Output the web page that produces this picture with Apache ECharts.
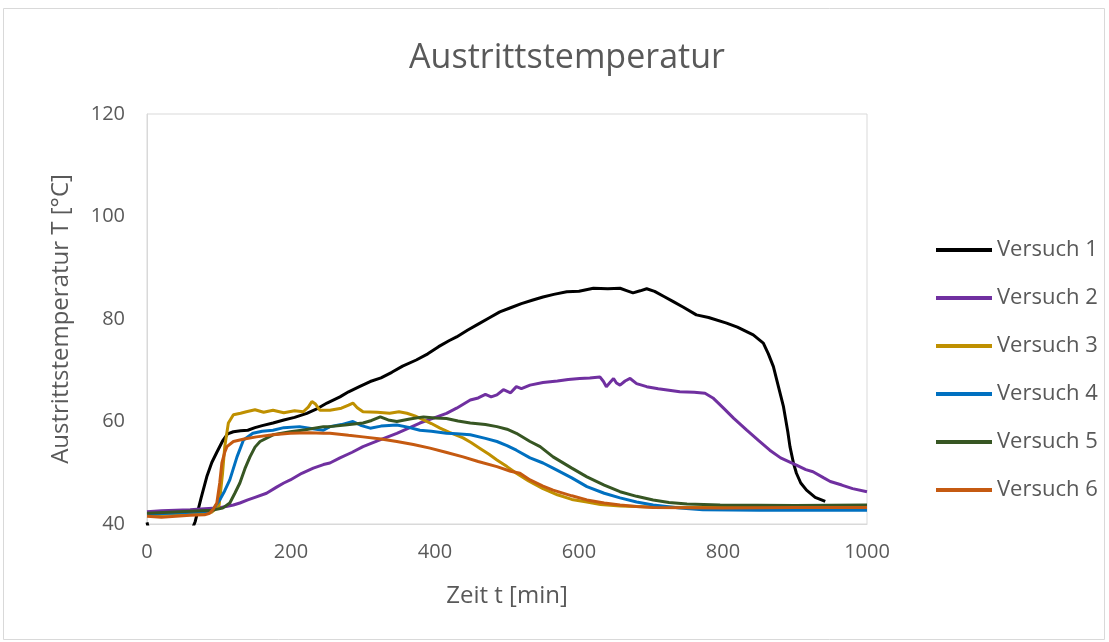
<!DOCTYPE html>
<html>
<head>
<meta charset="utf-8">
<script src="https://cdn.jsdelivr.net/npm/echarts@6/dist/echarts.min.js"></script>
<style>html,body{margin:0;padding:0;background:#fff;}#c{width:1109px;height:642px;}</style>
</head>
<body>
<div id="c"></div>
<script>
const titleText = "Austrittstemperatur";
const xName = "Zeit t [min]";
const yName = "Austrittstemperatur T [°C]";
const seriesNames = ["Versuch 1","Versuch 2","Versuch 3","Versuch 4","Versuch 5","Versuch 6"];
const seriesColors = ["#000000","#7030A0","#BF9000","#0070C0","#375623","#C55A11"];

const versuch1 = [[0,40.3],[4,38],[10,34],[30,33],[50,35],[60,38],[67,40.5],[75,45],[83,49.2],[90,52],[97,54],[105,56.2],[112,57.6],[120,58],[130,58.2],[140,58.3],[150,58.8],[160,59.2],[175,59.7],[190,60.3],[205,60.8],[222,61.6],[235,62.4],[250,63.6],[268,64.8],[280,65.8],[295,66.8],[310,67.8],[325,68.5],[340,69.6],[355,70.8],[374,72],[390,73.2],[405,74.6],[420,75.8],[430,76.5],[445,77.8],[460,79],[475,80.2],[490,81.4],[505,82.2],[520,83],[536,83.7],[550,84.3],[565,84.8],[583,85.3],[600,85.4],[620,86],[640,85.9],[657,86],[667,85.5],[675,85.1],[685,85.5],[694,85.9],[705,85.4],[718,84.4],[731,83.4],[745,82.3],[763,80.8],[780,80.3],[805,79.2],[820,78.4],[842,76.9],[856,75.3],[863,73.2],[870,70.7],[877,66.8],[884,62.9],[890,58],[893,55.1],[898,51.8],[902,49.9],[908,48],[916,46.6],[928,45.2],[942,44.4]];
const versuch2 = [[0,42.4],[20,42.6],[40,42.7],[60,42.8],[80,43],[97,43.1],[110,43.4],[120,43.7],[129,44.1],[140,44.7],[150,45.2],[166,46],[180,47.2],[190,48],[199,48.6],[215,49.9],[231,50.9],[245,51.6],[254,51.9],[268,52.9],[285,54],[300,55.1],[320,56.2],[347,57.7],[365,58.8],[379,59.7],[395,60.5],[416,61.6],[430,62.6],[449,64.2],[460,64.6],[470,65.3],[478,64.8],[486,65.2],[495,66.2],[505,65.6],[513,66.8],[520,66.4],[532,67.1],[550,67.6],[570,67.9],[585,68.2],[601,68.4],[615,68.5],[629,68.7],[634,67.8],[638,66.8],[643,67.6],[648,68.4],[652,67.5],[657,67.1],[664,67.9],[671,68.4],[680,67.4],[694,66.8],[710,66.4],[725,66.1],[740,65.8],[760,65.7],[775,65.5],[786,64.6],[800,62.7],[815,60.6],[833,58.3],[850,56.2],[865,54.4],[880,52.9],[902,51.5],[915,50.6],[925,50.2],[940,49],[949,48.3],[965,47.6],[980,46.9],[1000,46.3]];
const versuch3 = [[0,41.8],[30,41.9],[60,42.1],[90,42.3],[100,43.5],[105,50],[108,55.1],[113,59.7],[120,61.3],[130,61.6],[138,61.9],[150,62.3],[162,61.8],[175,62.2],[190,61.7],[205,62.1],[217,61.9],[224,62.8],[229,63.9],[234,63.4],[240,62.2],[254,62.2],[270,62.6],[280,63.2],[286,63.6],[292,62.7],[300,61.9],[320,61.8],[337,61.6],[350,61.9],[361,61.6],[372,61.1],[384,60.3],[395,59.6],[407,58.7],[420,57.9],[439,56.8],[450,55.9],[462,54.8],[475,53.6],[486,52.5],[500,51.2],[513,49.9],[530,48.4],[550,46.9],[570,45.7],[590,44.8],[611,44.3],[630,43.8],[657,43.5],[700,43.3],[750,43.2],[800,43.2],[900,43.2],[1000,43.3]];
const versuch4 = [[0,41.9],[30,42.1],[60,42.3],[90,42.5],[101,44.7],[108,46.5],[115,48.6],[125,53.1],[134,56.4],[147,57.7],[160,58.1],[175,58.3],[190,58.8],[212,59],[230,58.6],[245,58.3],[254,59],[270,59.4],[286,60],[298,59.2],[310,58.7],[325,59.1],[347,59.3],[362,58.9],[379,58.3],[395,58.1],[416,57.7],[430,57.6],[449,57.4],[470,56.7],[486,56.1],[500,55.3],[513,54.4],[532,52.9],[550,51.9],[564,50.9],[590,49],[611,47.3],[635,46],[657,45.1],[680,44.3],[703,43.7],[740,43.1],[772,42.8],[850,42.7],[1000,42.7]];
const versuch5 = [[0,42.1],[30,42.3],[60,42.5],[90,42.7],[105,43.1],[115,44.1],[122,46],[129,48],[136,50.8],[143,53.1],[150,55],[157,56.1],[175,57.4],[199,58],[220,58.4],[245,59],[254,59],[275,59.3],[300,59.7],[312,60.2],[324,60.9],[335,60.3],[347,60],[365,60.5],[384,60.9],[400,60.7],[416,60.6],[432,60.1],[449,59.7],[470,59.4],[486,59],[500,58.5],[513,57.7],[532,56.1],[546,55.1],[564,53.1],[590,50.9],[611,49.2],[635,47.6],[657,46.3],[680,45.4],[703,44.7],[725,44.2],[750,43.9],[796,43.7],[900,43.6],[1000,43.7]];
const versuch6 = [[0,41.5],[20,41.3],[40,41.5],[60,41.7],[80,41.8],[87,42.1],[92,42.9],[97,44.1],[101,48],[104,51.9],[108,54],[111,55.1],[120,56.1],[135,56.6],[152,57],[175,57.4],[199,57.7],[225,57.8],[245,57.7],[254,57.7],[280,57.3],[300,57],[325,56.6],[347,56.1],[370,55.5],[393,54.8],[415,54],[439,53.1],[460,52.2],[486,51.2],[505,50.3],[518,49.9],[532,48.6],[550,47.4],[564,46.6],[590,45.5],[611,44.7],[635,44.1],[657,43.7],[680,43.4],[703,43.2],[800,43.1],[900,43.2],[1000,43.2]];
const allData = [versuch1, versuch2, versuch3, versuch4, versuch5, versuch6];

const FONT = "'Open Sans', 'Noto Sans', sans-serif";
const chart = echarts.init(document.getElementById('c'), null, {renderer: 'canvas'});
chart.setOption({
  animation: false,
  backgroundColor: '#ffffff',
  graphic: [{
    type: 'rect', shape: {x: 3.5, y: 8.5, width: 1101, height: 631},
    style: {fill: 'none', stroke: '#d9d9d9', lineWidth: 1}, silent: true, z: -1
  }],
  title: {
    text: titleText, left: 562, top: 36, textAlign: 'center',
    textStyle: {fontFamily: FONT, fontSize: 34, fontWeight: 'normal', color: '#595959'}
  },
  legend: {
    orient: 'vertical', left: 931, top: 233, icon: 'rect',
    itemWidth: 56, itemHeight: 4, itemGap: 24,
    textStyle: {fontFamily: FONT, fontSize: 22, color: '#595959', lineHeight: 24, padding: [0,0,0,0]},
    data: seriesNames
  },
  grid: {left: 147, right: 242, top: 114, bottom: 118, show: true, borderColor: '#d9d9d9', borderWidth: 1},
  xAxis: {
    type: 'value', min: 0, max: 1000, interval: 200,
    name: xName, nameLocation: 'middle', nameGap: 60,
    nameTextStyle: {fontFamily: FONT, fontSize: 24, color: '#595959'},
    axisLine: {show: true, lineStyle: {color: '#d9d9d9'}},
    axisTick: {show: false}, splitLine: {show: false},
    axisLabel: {fontFamily: FONT, fontSize: 20, color: '#595959', margin: 18, formatter: v => String(v)}
  },
  yAxis: {
    type: 'value', min: 40, max: 120, interval: 20,
    name: yName, nameLocation: 'middle', nameGap: 74,
    nameTextStyle: {fontFamily: FONT, fontSize: 24, color: '#595959'},
    axisLine: {show: true, lineStyle: {color: '#d9d9d9'}},
    axisTick: {show: false}, splitLine: {show: false},
    axisLabel: {fontFamily: FONT, fontSize: 20, color: '#595959', margin: 22, formatter: v => String(v)}
  },
  series: seriesNames.map((n, i) => ({
    name: n, type: 'line', data: allData[i], showSymbol: false, symbol: 'none',
    clip: true, color: seriesColors[i],
    lineStyle: {width: 3, color: seriesColors[i]}
  }))
});
</script>
</body>
</html>
